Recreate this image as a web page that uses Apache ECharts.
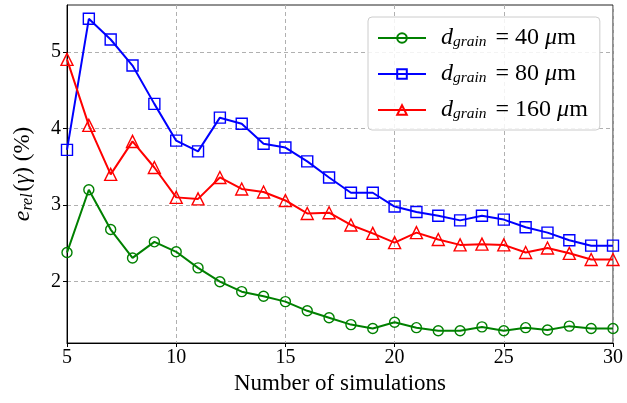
<!DOCTYPE html>
<html><head><meta charset="utf-8">
<script src="https://cdn.jsdelivr.net/npm/echarts@6/dist/echarts.min.js"></script>
<style>html,body{margin:0;padding:0;background:#fff}#c{width:627px;height:403px}</style>
</head><body><div id="c"></div>
<script>
const sims = [5,6,7,8,9,10,11,12,13,14,15,16,17,18,19,20,21,22,23,24,25,26,27,28,29,30];
const d40 = [2.38,3.20,2.68,2.31,2.52,2.39,2.18,2.00,1.87,1.81,1.74,1.62,1.53,1.44,1.39,1.47,1.40,1.36,1.36,1.41,1.36,1.40,1.37,1.42,1.39,1.39];
const d80 = [3.72,5.43,5.16,4.82,4.32,3.84,3.70,4.14,4.06,3.80,3.75,3.57,3.36,3.16,3.16,2.98,2.91,2.86,2.80,2.86,2.81,2.71,2.64,2.54,2.47,2.47];
const d160 = [4.90,4.04,3.40,3.83,3.49,3.10,3.08,3.36,3.21,3.17,3.06,2.89,2.90,2.74,2.63,2.51,2.64,2.55,2.48,2.49,2.48,2.38,2.44,2.37,2.29,2.29];
const yTicks = [2,3,4,5];
const seriesNames = ['40','80','160'];
const colors = ['#008000','#0000ff','#ff0000'];
const symbols = ['circle','rect','triangle'];
const font = 'Liberation Serif, DejaVu Serif, serif';

function pts(arr){ return sims.map((s,i)=>[s,arr[i]]); }
const dataSets = [d40,d80,d160];

const chart = echarts.init(document.getElementById('c'), null, {renderer:'canvas'});
chart.setOption({
  animation:false,
  grid:{left:67,right:14,top:5,bottom:60,show:true,borderColor:'#222',borderWidth:1},
  legend:{
    orient:'vertical', left:368, top:17, padding:[9,12,8,9], itemGap:12,
    itemWidth:48, itemHeight:12,
    backgroundColor:'rgba(255,255,255,0.85)', borderColor:'#cccccc', borderWidth:1, borderRadius:4,
    data: seriesNames.map(n=>'d'+n),
    formatter: function(name){ const v=name.slice(1); return '{i|d}{s|grain}{r| = '+v+' }{i|μ}{r|m}'; },
    textStyle:{fontFamily:font,fontSize:24,color:'#000',padding:[0,0,0,10],
      rich:{
        i:{fontFamily:font,fontStyle:'italic',fontSize:24,lineHeight:24,verticalAlign:'middle'},
        s:{fontFamily:font,fontStyle:'italic',fontSize:15.5,lineHeight:14,verticalAlign:'bottom',padding:[0,3,0,0]},
        r:{fontFamily:font,fontSize:24,lineHeight:24,verticalAlign:'middle'}
      }}
  },
  xAxis:{
    type:'value', min:5, max:30, interval:5,
    name:'Number of simulations', nameLocation:'middle', nameGap:29,
    nameTextStyle:{fontFamily:font,fontSize:23,color:'#000'},
    axisLine:{lineStyle:{color:'#000',width:1}},
    axisTick:{show:true,inside:false,length:4,lineStyle:{color:'#000'}},
    axisLabel:{fontFamily:font,fontSize:20,color:'#000',margin:5},
    splitLine:{show:true,lineStyle:{color:'#b0b0b0',type:[4,3],width:1}}
  },
  yAxis:{
    type:'value', min:1.2, max:5.61,
    name:'{e|e}{s|rel}{r|(}{g|γ}{r|) (%)}', nameLocation:'middle', nameGap:31, nameRotate:90,
    nameTextStyle:{fontFamily:font,fontSize:23,color:'#000',
      rich:{
        e:{fontFamily:font,fontStyle:'italic',fontSize:24,lineHeight:26,verticalAlign:'middle'},
        s:{fontFamily:font,fontStyle:'italic',fontSize:16,lineHeight:15,verticalAlign:'bottom',padding:[0,2,0,0]},
        g:{fontFamily:font,fontStyle:'italic',fontSize:23,lineHeight:26,verticalAlign:'middle'},
        r:{fontFamily:font,fontSize:23,lineHeight:26,verticalAlign:'middle'}
      }},
    axisLine:{show:true,lineStyle:{color:'#000',width:1}},
    axisTick:{show:true,inside:false,length:4,lineStyle:{color:'#000'},customValues:yTicks},
    axisLabel:{fontFamily:font,fontSize:20,color:'#000',margin:6,customValues:yTicks},
    splitLine:{show:true,lineStyle:{color:'#b0b0b0',type:[4,3],width:1}}
  },
  series: seriesNames.map((n,k)=>({
    name:'d'+n, type:'line', data:pts(dataSets[k]),
    symbol:symbols[k], symbolSize: k===0?10:(k===1?11:12), showAllSymbol:true,
    lineStyle:{color:colors[k],width:2},
    itemStyle:{color:'rgba(255,255,255,0)',borderColor:colors[k],borderWidth:1.4},
    z: k===0?3:(k===1?3:4)
  }))
});
</script></body></html>
